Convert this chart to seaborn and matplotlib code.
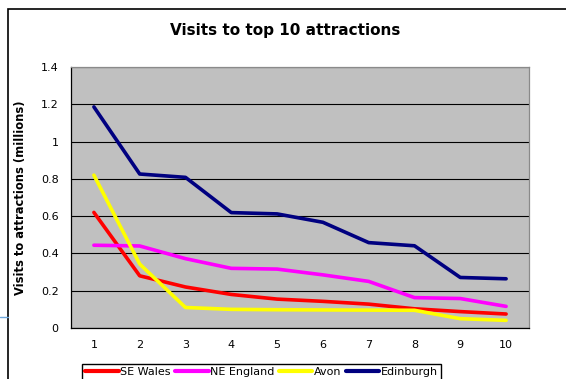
import numpy as np
import pandas as pd
import matplotlib
matplotlib.use("Agg")
import matplotlib.pyplot as plt
import seaborn as sns
from matplotlib.patches import Rectangle
from matplotlib.lines import Line2D

# values (millions of visits)
rank = [1, 2, 3, 4, 5, 6, 7, 8, 9, 10]
se_wales = [0.62, 0.28, 0.22, 0.18, 0.155, 0.143, 0.128, 0.103, 0.088, 0.075]
ne_england = [0.444, 0.44, 0.372, 0.32, 0.316, 0.285, 0.25, 0.163, 0.158, 0.116]
avon = [0.82, 0.343, 0.11, 0.1, 0.098, 0.097, 0.096, 0.095, 0.05, 0.041]
edinburgh = [1.186, 0.826, 0.808, 0.619, 0.612, 0.567, 0.458, 0.441, 0.271, 0.264]
regions = ["SE Wales", "NE England", "Avon", "Edinburgh"]
colors = ["#ff0000", "#ff00ff", "#ffff00", "#000080"]

df = pd.DataFrame({
    "rank": rank * 4,
    "visits": se_wales + ne_england + avon + edinburgh,
    "region": [r for r in regions for _ in rank],
})

sns.set_style("white")
plt.rcParams["font.family"] = ["DejaVu Sans"]
plt.rcParams["text.color"] = "black"
plt.rcParams["axes.labelcolor"] = "black"
plt.rcParams["xtick.color"] = "black"
plt.rcParams["ytick.color"] = "black"

fig = plt.figure(figsize=(5.66, 3.79), dpi=100)
ax = fig.add_axes([71 / 566, 51 / 379, 458 / 566, 261 / 379])
ax.set_facecolor("#c0c0c0")

sns.lineplot(data=df, x="rank", y="visits", hue="region", hue_order=regions,
             palette=dict(zip(regions, colors)), linewidth=2.6, ax=ax,
             legend=False)

ax.set_xlim(0.5, 10.5)
ax.set_ylim(0, 1.4)
ax.set_yticks(np.arange(0, 1.41, 0.2))
ax.set_yticklabels(["0", "0.2", "0.4", "0.6", "0.8", "1", "1.2", "1.4"])
ax.yaxis.grid(True, color="black", linewidth=0.8)
ax.set_axisbelow(True)

ax.set_xticks(np.arange(0.5, 10.6, 1))
ax.set_xticklabels([])
ax.set_xticks(rank, minor=True)
ax.set_xticklabels([str(r) for r in rank], minor=True)
ax.tick_params(axis="x", which="major", length=4, width=0.8, color="black",
               direction="out")
ax.tick_params(axis="x", which="minor", length=0, pad=9, labelsize=8)
ax.tick_params(axis="y", length=4, width=0.8, color="black", direction="out",
               pad=5, labelsize=8)

for s in ["left", "bottom"]:
    ax.spines[s].set_color("black")
    ax.spines[s].set_linewidth(0.9)
for s in ["top", "right"]:
    ax.spines[s].set_color("#8a8a8a")
    ax.spines[s].set_linewidth(0.9)

ax.set_xlabel("")
ax.set_ylabel("Visits to attractions (millions)", fontsize=8.3,
              fontweight="bold", labelpad=10)
fig.text(0.504, 1 - 30 / 379, "Visits to top 10 attractions", ha="center",
         va="center", fontsize=11, fontweight="bold")

handles = [Line2D([], [], color=c, linewidth=3) for c in colors]
fig.legend(handles, regions, loc="upper left",
           bbox_to_anchor=(82 / 566, 1 - 364 / 379), ncol=4, fontsize=8,
           frameon=True, fancybox=False, edgecolor="black", framealpha=1,
           handlelength=3.0, handletextpad=0.15, columnspacing=0.4,
           borderpad=0.3, borderaxespad=0)

# outer chart border, cut off at right and bottom
fig.patches.append(Rectangle((8 / 566, -0.1), 1.2, 1.1 - 9 / 379,
                             transform=fig.transFigure, fill=False,
                             edgecolor="black", linewidth=1.2))
fig.lines.append(Line2D([0, 8 / 566], [1 - 317 / 379, 1 - 317 / 379],
                        transform=fig.transFigure, color="#6fa8dc",
                        linewidth=1))

fig.savefig("out.png", dpi=100)
